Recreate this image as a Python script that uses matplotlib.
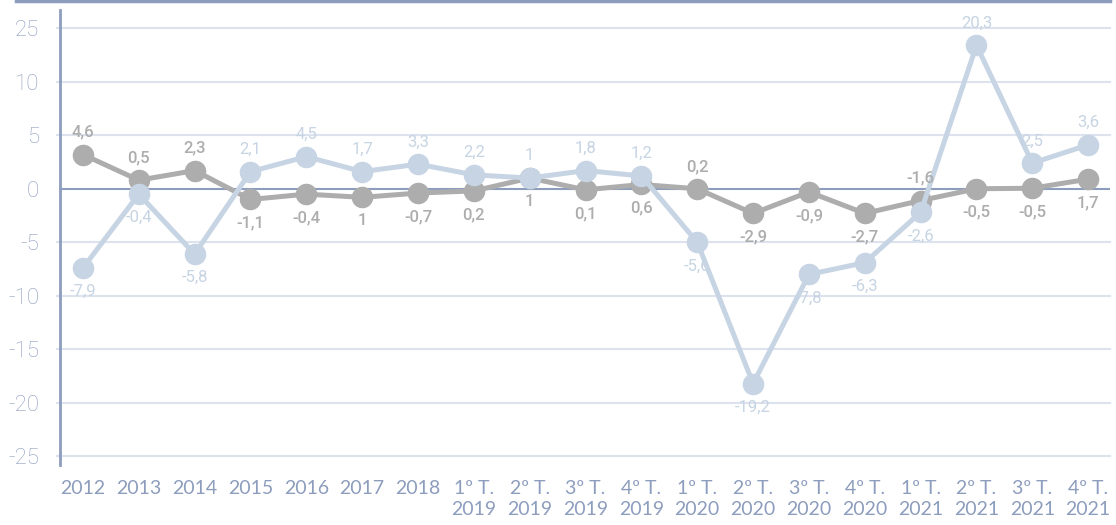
import numpy as np
import matplotlib.pyplot as plt
from matplotlib.lines import Line2D

categories = ['2012', '2013', '2014', '2015', '2016', '2017', '2018',
              '1º T.\n2019', '2º T.\n2019', '3º T.\n2019', '4º T.\n2019',
              '1º T.\n2020', '2º T.\n2020', '3º T.\n2020', '4º T.\n2020',
              '1º T.\n2021', '2º T.\n2021', '3º T.\n2021', '4º T.\n2021']

# point heights as drawn in the picture
grey_vals = [3.2, 0.8, 1.7, -1.0, -0.5, -0.8, -0.4, -0.2, 1.0, -0.1, 0.4,
             0.0, -2.3, -0.3, -2.3, -1.1, 0.0, 0.05, 0.9]
blue_vals = [-7.4, -0.5, -6.1, 1.6, 3.0, 1.6, 2.3, 1.3, 1.0, 1.7, 1.2,
             -5.0, -18.2, -8.0, -6.9, -2.2, 13.4, 2.4, 4.1]

# printed labels
grey_labels = ['4,6', '0,5', '2,3', '-1,1', '-0,4', '1', '-0,7', '0,2', '1', '0,1',
               '0,6', '0,2', '-2,9', '-0,9', '-2,7', '-1,6', '-0,5', '-0,5', '1,7']
grey_above = [1, 1, 1, 0, 0, 0, 0, 0, 0, 0, 0, 1, 0, 0, 0, 1, 0, 0, 0]
blue_labels = ['-7,9', '-0,4', '-5,8', '2,1', '4,5', '1,7', '3,3', '2,2', '1', '1,8',
               '1,2', '-5,6', '-19,2', '-7,8', '-6,3', '-2,6', '20,3', '2,5', '3,6']
blue_above = [0, 0, 0, 1, 1, 1, 1, 1, 1, 1, 1, 0, 0, 0, 0, 0, 1, 1, 1]

ytick_pos = [-25, -20, -15, -10, -5, 0, 5, 10, 15]
ytick_lab = ['-25', '-20', '-15', '-10', '-5', '0', '5', '10', '25']

GREY = '#adadad'
BLUE = '#c6d4e3'
AXIS = '#8d9dbd'
GRID = '#dde3ee'

fig = plt.figure(figsize=(11.16, 5.25), dpi=100)
ax = fig.add_axes([0.0538, 0.1143, 0.9408, 0.8667])
x = np.arange(len(categories))

ax.set_xlim(-0.41, len(categories) - 1 + 0.39)
ax.set_ylim(-25.8, 16.7)

for y in ytick_pos:
    if y != 0:
        ax.axhline(y, color=GRID, lw=1.5, zorder=0, xmin=-0.003, clip_on=False)
ax.axhline(0, color=AXIS, lw=1.5, zorder=1)

ax.plot(x, grey_vals, color=GREY, lw=3.6, marker='o', ms=14.5, zorder=3)
ax.plot(x, blue_vals, color=BLUE, lw=3.6, marker='o', ms=14.5, zorder=4)

for i in x:
    off = 16 if grey_above[i] else -17
    ax.annotate(grey_labels[i], (i, grey_vals[i]), xytext=(0, off), textcoords='offset points',
                ha='center', va='center', color=GREY, fontsize=12, fontweight='medium',
                family='Roboto', zorder=5)
    off = 16 if blue_above[i] else -17
    ax.annotate(blue_labels[i], (i, blue_vals[i]), xytext=(0, off), textcoords='offset points',
                ha='center', va='center', color=BLUE, fontsize=12,
                family='Roboto', zorder=5)

for s in ['top', 'right', 'bottom']:
    ax.spines[s].set_visible(False)
ax.spines['left'].set_color(AXIS)
ax.spines['left'].set_linewidth(2)

ax.set_yticks(ytick_pos)
ax.set_yticklabels(ytick_lab, color=AXIS, fontsize=16, family='Roboto', fontweight='light')
ax.set_xticks(x)
ax.set_xticklabels(categories, color=AXIS, fontsize=14, family='Lato', linespacing=1.25, va='top')
ax.tick_params(axis='both', length=0)
ax.tick_params(axis='y', pad=15)
ax.tick_params(axis='x', pad=11)

fig.add_artist(Line2D([16 / 1116, 1110 / 1116], [0.998, 0.998], color=AXIS, lw=2.5))

fig.savefig('out.png', dpi=100)
